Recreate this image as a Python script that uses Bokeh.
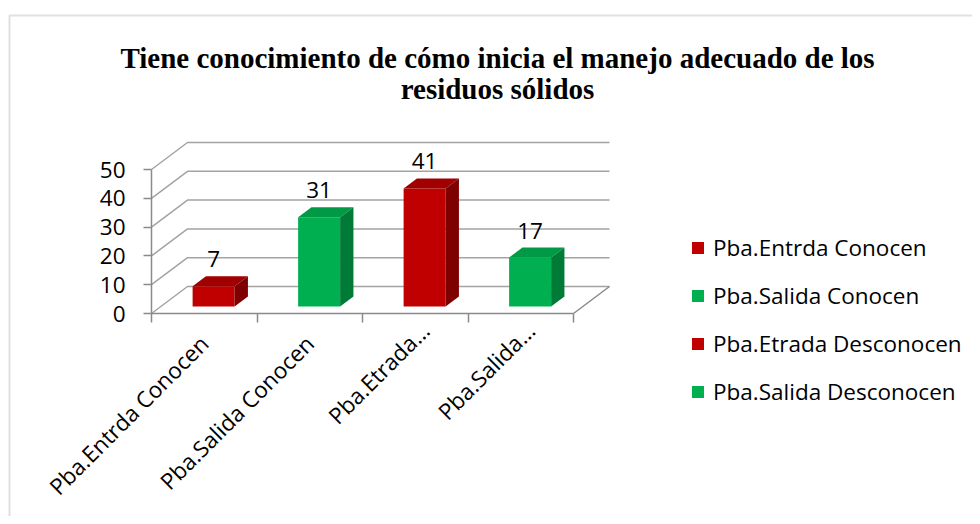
import numpy as np
from bokeh.plotting import figure
from bokeh.models import (Range1d, LinearAxis, FixedTicker, Legend, LegendItem, Label,
                          BoxAnnotation, ColumnDataSource)
from bokeh.embed import file_html
from bokeh.resources import INLINE
from bokeh.core.properties import value

# ---- data ----
categories = ["Pba.Entrda Conocen", "Pba.Salida Conocen", "Pba.Etrada Desconocen", "Pba.Salida Desconocen"]
tick_labels = ["Pba.Entrda Conocen", "Pba.Salida Conocen", "Pba.Etrada\u2026", "Pba.Salida\u2026"]
values = [7, 31, 41, 17]
y_ticks = [0, 10, 20, 30, 40, 50]
title_lines = ["Tiene conocimiento de cómo inicia el manejo adecuado de los", "residuos sólidos"]
front_colors = ["#C00000", "#00B050", "#C00000", "#00B050"]
top_colors = ["#A00000", "#009A46", "#A00000", "#009A46"]
side_colors = ["#7E0000", "#007A37", "#7E0000", "#007A37"]

# ---- layout constants ----
W, H = 972, 516
ORIGIN_X, ORIGIN_Y = 151, 313   # canvas position of the front-left corner of the floor
PX_X = 105.5                    # px per category
PX_Y = 2.88                     # px per value unit
DX = 36 / PX_X                  # depth vector (category units)
DY = 27 / PX_Y                  # depth vector (value units)
F1, F2 = 0.26, 0.63             # bar front/back depth fractions
BW = 42 / PX_X                  # bar width
LBL_OFF_X = [0, 0, 10, 10]      # px offset of each rotated category label's end from its category centre
LBL_OFF_Y = [26, 26, 13, 13]    # px below the floor line
FONT = "Open Sans"
FS = "22.5px"
GRID = "#a3a3a3"
AX = "#8a8a8a"

n = len(values)
x0 = 0.5
xs = x0 - ORIGIN_X / PX_X
ys = -(H - ORIGIN_Y) / PX_Y
p = figure(width=W, height=H, output_backend="svg", toolbar_location=None,
           x_range=Range1d(xs, xs + W / PX_X), y_range=Range1d(ys, ys + H / PX_Y),
           x_axis_location=None, y_axis_location=None,
           min_border_left=0, min_border_right=0, min_border_top=0, min_border_bottom=0)
p.outline_line_color = None
p.xgrid.visible = False
p.ygrid.visible = False

# border of the chart area
p.add_layout(BoxAnnotation(left=9, right=W + 60, top=15, bottom=H + 60,
                           left_units="canvas", right_units="canvas", top_units="canvas", bottom_units="canvas",
                           fill_alpha=0, line_color="#999999", line_width=2, level="underlay"))

# gridlines: left wall diagonals + back wall horizontals
gx, gy = [], []
for v in y_ticks:
    gx.append([x0, x0 + DX, x0 + n + DX])
    gy.append([v, v + DY, v + DY])
p.multi_line(gx, gy, line_color=GRID, line_width=1.5)
# floor right edge
p.line([x0 + n, x0 + n + DX], [0, DY], line_color=AX, line_width=1.5)

# bars
centers = np.arange(1, n + 1)
lefts = centers - BW / 2 + F1 * DX
rights = lefts + BW
bots = np.full(n, F1 * DY)
tops = bots + np.array(values)
ddx, ddy = (F2 - F1) * DX, (F2 - F1) * DY

src = ColumnDataSource(dict(left=lefts, right=rights, bottom=bots, top=tops, color=front_colors))
front_r = p.quad(left="left", right="right", bottom="bottom", top="top", fill_color="color",
                 line_color=None, source=src)
top_xs = [[l, r, r + ddx, l + ddx] for l, r in zip(lefts, rights)]
top_ys = [[t, t, t + ddy, t + ddy] for t in tops]
p.patches(top_xs, top_ys, fill_color=top_colors, line_color=None)
side_xs = [[r, r, r + ddx, r + ddx] for r in rights]
side_ys = [[b, t, t + ddy, b + ddy] for b, t in zip(bots, tops)]
p.patches(side_xs, side_ys, fill_color=side_colors, line_color=None)

# value labels
p.text(x=(lefts + rights) / 2, y=tops + 27 / PX_Y, text=[str(v) for v in values],
       text_align="center", text_baseline="middle", text_font=value(FONT), text_font_size=FS,
       text_color="black")

# rotated category labels
p.text(x=centers + np.array(LBL_OFF_X) / PX_X, y=-np.array(LBL_OFF_Y) / PX_Y, text=tick_labels,
       angle=np.pi / 4, text_align="right", text_baseline="middle",
       text_font=value(FONT), text_font_size=FS, text_color="black")

# axes (drawn at fixed data locations)
yaxis = LinearAxis(ticker=FixedTicker(ticks=y_ticks), bounds=(0, 50), fixed_location=x0)
yaxis.axis_line_color = AX
yaxis.axis_line_width = 1.5
yaxis.major_tick_line_color = AX
yaxis.major_tick_line_width = 1.5
yaxis.major_tick_out = 8
yaxis.major_tick_in = 0
yaxis.minor_tick_line_color = None
yaxis.major_label_standoff = 18
yaxis.major_label_text_font = FONT
yaxis.major_label_text_font_size = FS
yaxis.major_label_text_color = "black"
p.add_layout(yaxis, "left")

boundaries = [x0 + i for i in range(n + 1)]
xaxis = LinearAxis(ticker=FixedTicker(ticks=[], minor_ticks=boundaries), bounds=(x0, x0 + n),
                   fixed_location=0)
xaxis.axis_line_color = AX
xaxis.axis_line_width = 1.5
xaxis.major_tick_line_color = None
xaxis.minor_tick_line_color = AX
xaxis.minor_tick_line_width = 1.5
xaxis.minor_tick_out = 9
xaxis.minor_tick_in = 0
p.add_layout(xaxis, "below")

# legend
ITEM_H, SP = 31, 17
LEG_H = 4 * ITEM_H + 3 * SP
legend = Legend(items=[LegendItem(label=categories[i], renderers=[front_r], index=i) for i in range(n)],
                location=(690, H - (247 - ITEM_H // 2) - LEG_H), orientation="vertical",
                glyph_width=15, glyph_height=15,
                label_standoff=8, spacing=SP, padding=0, margin=0, label_height=26,
                border_line_color=None, background_fill_alpha=0,
                label_text_font=FONT, label_text_font_size=FS, label_text_color="black")
p.add_layout(legend)

# title
for i, line in enumerate(title_lines):
    p.add_layout(Label(x=497, y=57 + 31 * i, x_units="canvas", y_units="canvas", text=line,
                       text_align="center", text_baseline="middle",
                       text_font="Liberation Serif", text_font_style="bold", text_font_size="29px",
                       text_color="black"))

open("out.html", "w").write(file_html(p, INLINE))
